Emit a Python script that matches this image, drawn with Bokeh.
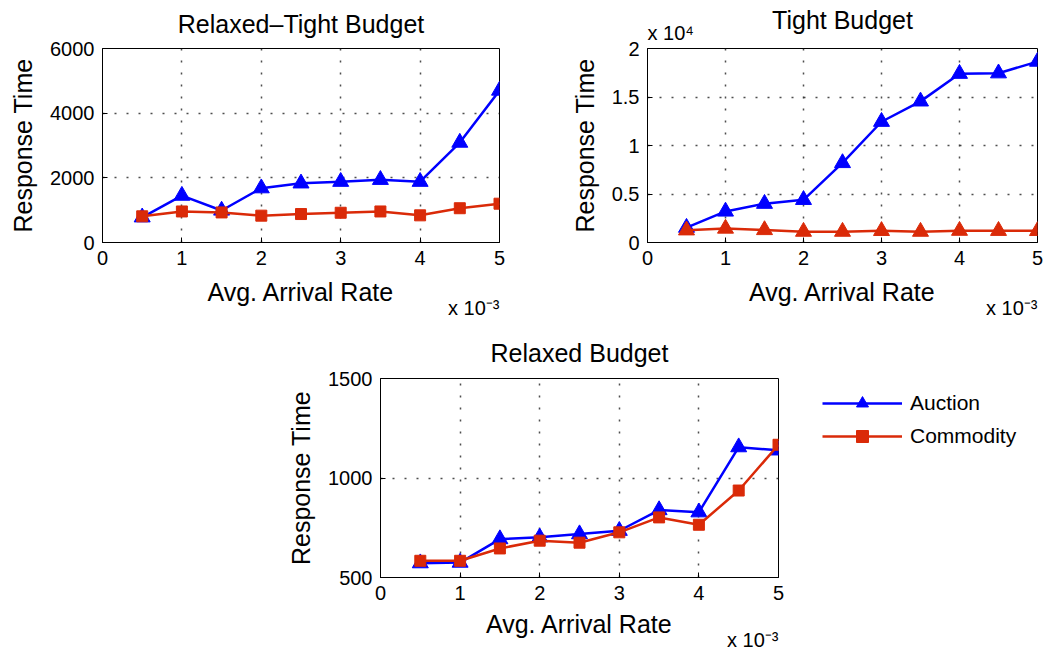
from bokeh.plotting import figure
from bokeh.models import (Range1d, FixedTicker, CustomJSTickFormatter,
                          Legend, LegendItem, Spacer, Title)
from bokeh.layouts import column, row
from bokeh.embed import file_html
from bokeh.resources import INLINE

# ---- data (arrival rate in units of 1e-3) ----
rate = [0.5, 1, 1.5, 2, 2.5, 3, 3.5, 4, 4.5, 5]
x_ticks = [0, 1, 2, 3, 4, 5]

rt_auction = [780, 1450, 990, 1680, 1830, 1880, 1940, 1880, 3090, 4700]
rt_commodity = [810, 960, 930, 830, 880, 920, 960, 840, 1060, 1200]
rt_yticks = [0, 2000, 4000, 6000]

tight_auction = [1530, 3200, 4000, 4400, 8200, 12450, 14550, 17400, 17450, 18650]
tight_commodity = [1260, 1440, 1290, 1120, 1120, 1200, 1120, 1220, 1210, 1200]
tight_yticks = [0, 5000, 10000, 15000, 20000]

relaxed_auction = [572, 575, 693, 702, 718, 735, 839, 828, 1155, 1139]
relaxed_commodity = [584, 584, 646, 685, 675, 727, 802, 765, 937, 1167]
relaxed_yticks = [500, 1000, 1500]

series_names = ["Auction", "Commodity"]

BLUE = "#0000FF"
RED = "#DA2A08"
FONT = "Liberation Sans"
LW = 2.5
TRI = 16
SQ = 11


def txt_title(text, size, align, valign, standoff, offset=0):
    return Title(text=text, align=align, vertical_align=valign, standoff=standoff,
                 offset=offset, text_font=FONT, text_font_size=size,
                 text_font_style="normal", text_color="black")


def make_fig(width, height, bl, br, bt, bb, yr, yticks, xlabel_standoff=10):
    p = figure(width=width, height=height, output_backend="svg",
               toolbar_location=None, title_location=None,
               x_range=Range1d(0, 5), y_range=Range1d(*yr),
               min_border_left=bl, min_border_right=br,
               min_border_top=bt, min_border_bottom=bb)
    p.outline_line_color = "black"
    p.outline_line_alpha = 1
    p.outline_line_width = 1
    for ax in (p.xaxis[0], p.yaxis[0]):
        ax.axis_line_color = "black"
        ax.major_tick_line_color = "black"
        ax.major_tick_in = 5
        ax.major_tick_out = 0
        ax.minor_tick_line_color = None
        ax.major_label_text_font = FONT
        ax.major_label_text_font_size = "20px"
        ax.major_label_text_color = "black"
        ax.axis_label_text_font = FONT
        ax.axis_label_text_font_size = "25px"
        ax.axis_label_text_font_style = "normal"
        ax.axis_label_text_color = "black"
        ax.major_label_standoff = 8
        ax.axis_label_standoff = 10
    p.xaxis.axis_label_standoff = xlabel_standoff
    p.xaxis.ticker = FixedTicker(ticks=x_ticks)
    p.yaxis.ticker = FixedTicker(ticks=yticks)
    p.xaxis.axis_label = "Avg. Arrival Rate"
    p.yaxis.axis_label = "Response Time"
    for g in (p.xgrid[0], p.ygrid[0]):
        g.grid_line_color = "#222222"
        g.grid_line_alpha = 0.8
        g.grid_line_dash = "2 10"
        g.grid_line_width = 1.5
    # "x 10^-3" multiplier under the right end of the x axis
    p.add_layout(txt_title("x 10\u207b\u00b3", "20px", "right", "top", -24), "below")
    return p


# ---- Relaxed-Tight ----
p1 = make_fig(530, 320, 102, 31, 47, 78, (0, 6000), rt_yticks)
p1.add_layout(txt_title("Relaxed\u2013Tight Budget", "25px", "center", "top", 17), "above")
p1.line(rate, rt_auction, line_color=BLUE, line_width=LW)
p1.scatter(rate, rt_auction, marker="triangle", size=TRI, color=BLUE)
p1.line(rate, rt_commodity, line_color=RED, line_width=LW)
p1.scatter(rate, rt_commodity, marker="square", size=SQ, color=RED)

# ---- Tight ----
p2 = make_fig(530, 320, 117, 23, 48, 76, (0, 20000), tight_yticks)
p2.yaxis.formatter = CustomJSTickFormatter(code="return (tick/10000).toString();")
p2.add_layout(txt_title("x 10\u2074", "20px", "left", "top", 5), "above")
p2.add_layout(txt_title("Tight Budget", "25px", "center", "bottom", -28), "above")
p2.line(rate, tight_auction, line_color=BLUE, line_width=LW)
p2.scatter(rate, tight_auction, marker="triangle", size=TRI, color=BLUE)
p2.line(rate, tight_commodity, line_color=RED, line_width=LW)
p2.scatter(rate, tight_commodity, marker="triangle", size=TRI, color=RED)

# ---- Relaxed ----
p3 = make_fig(530, 329, 100, 32, 58, 72, (500, 1500), relaxed_yticks, xlabel_standoff=7)
p3.add_layout(txt_title("Relaxed Budget", "25px", "center", "top", 19), "above")
p3.line(rate, relaxed_auction, line_color=BLUE, line_width=LW)
p3.scatter(rate, relaxed_auction, marker="triangle", size=TRI, color=BLUE)
p3.line(rate, relaxed_commodity, line_color=RED, line_width=LW)
p3.scatter(rate, relaxed_commodity, marker="square", size=SQ, color=RED)

# ---- legend panel (frame aligned with the Relaxed plot's frame) ----
# the same series are drawn here, but the view is scrolled away from the data,
# so only the legend entries are visible.
lg = figure(width=250, height=329, output_backend="svg", toolbar_location=None,
            title_location=None, x_axis_type=None, y_axis_type=None,
            x_range=Range1d(-20, -19), y_range=Range1d(-20, -19),
            min_border_left=0, min_border_right=0, min_border_top=58, min_border_bottom=72)
lg.outline_line_color = None
lg.grid.visible = False
la = lg.line(rate, relaxed_auction, line_color=BLUE, line_width=LW)
sa = lg.scatter(rate, relaxed_auction, marker="triangle", size=TRI, color=BLUE)
lc = lg.line(rate, relaxed_commodity, line_color=RED, line_width=LW)
sc = lg.scatter(rate, relaxed_commodity, marker="square", size=SQ, color=RED)
legend = Legend(items=[LegendItem(label=series_names[0], renderers=[la, sa]),
                       LegendItem(label=series_names[1], renderers=[lc, sc])],
                location=(12, 126), glyph_width=80, glyph_height=30,
                label_standoff=8, spacing=3, padding=0, margin=0,
                label_text_font=FONT, label_text_font_size="21px",
                label_text_color="black",
                border_line_alpha=0, background_fill_alpha=0)
lg.add_layout(legend)

layout = column(row(p1, p2), row(Spacer(width=280, height=329), p3, lg))

open("out.html", "w").write(file_html(layout, INLINE))
